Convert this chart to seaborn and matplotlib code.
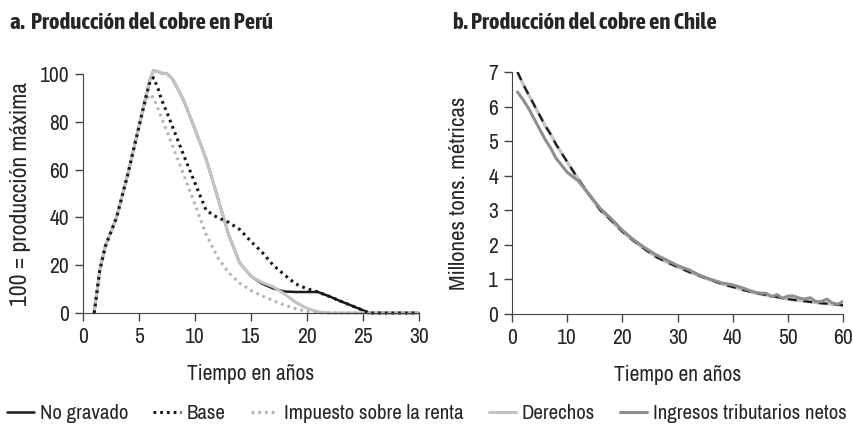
import matplotlib
matplotlib.use("Agg")
import matplotlib.pyplot as plt
from matplotlib import font_manager
from matplotlib.lines import Line2D
import seaborn as sns

# Peru (100 = max production)
anos_peru = [1, 1.5, 2, 3, 4, 5, 5.6, 6, 6.3, 6.7, 7, 7.5, 8, 9, 10, 11, 12, 13, 14, 15, 16,
             17, 18, 19, 20, 21, 22, 23, 24, 25, 25.6, 27, 30]
no_gravado_peru = [0, 18, 28, 40, 58, 78, 90, 98, 101.5, 101, 100.4, 100.2, 98, 89, 77, 64.5,
                   49, 33, 21, 15.5, 12.3, 10.3, 9, 8.8, 8.8, 8.8, 7, 5, 3.1, 1.2, 0, 0, 0]
base_peru = [0, 18, 28, 40, 58, 78, 90, 97, 98.5, 94, 89.5, 84, 78, 66, 54.5, 43, 40, 38, 35,
             30, 25.5, 20, 16, 12.2, 10.2, 8.8, 7, 5, 3.1, 1.2, 0, 0, 0]
impuesto_peru = [0, 18, 28, 40, 58, 78, 89, 91.5, 90, 85.5, 82, 76, 70, 58, 45.5, 33, 23.5, 17,
                 12.5, 9.5, 7.2, 5.2, 3.3, 1.8, 0.7, 0.1, 0, 0, 0, 0, 0, 0, 0]
derechos_peru = [0, 18, 28, 40, 58, 78, 90, 98, 101.5, 101, 100.4, 100.2, 98, 89, 77, 64.5,
                 49, 33, 21, 15.5, 12.8, 11, 8, 4.5, 2, 0.5, 0, 0, 0, 0, 0, 0, 0]

# Chile (millions of metric tons)
anos_chile = [1, 2, 3, 4, 5, 6, 7, 8, 10, 12, 14, 16, 18, 20, 22, 24, 26, 28, 30, 32, 34, 36,
              38, 40, 42, 43, 44, 45, 46, 47, 48, 49, 50, 51, 52, 53, 54, 55, 56, 57, 58, 59, 60]
no_gravado_chile = [7.0, 6.65, 6.35, 6.05, 5.75, 5.45, 5.2, 4.9, 4.4, 3.9, 3.45, 3.0, 2.7, 2.38,
                    2.12, 1.88, 1.66, 1.5, 1.36, 1.22, 1.1, 0.98, 0.87, 0.78, 0.69, 0.65, 0.61,
                    0.58, 0.55, 0.52, 0.49, 0.46, 0.43, 0.41, 0.39, 0.37, 0.35, 0.33, 0.31, 0.3,
                    0.28, 0.27, 0.25]
derechos_chile = no_gravado_chile
ingresos_chile = [6.42, 6.2, 5.95, 5.65, 5.35, 5.05, 4.8, 4.5, 4.1, 3.85, 3.45, 3.05, 2.75, 2.42,
                  2.15, 1.92, 1.72, 1.56, 1.4, 1.28, 1.12, 1.0, 0.9, 0.84, 0.74, 0.68, 0.63,
                  0.6, 0.6, 0.5, 0.56, 0.45, 0.52, 0.52, 0.46, 0.43, 0.47, 0.36, 0.36, 0.43,
                  0.32, 0.28, 0.37]

negro = "#1a1a1a"
gris_claro = "#c4c4c4"
gris_punto = "#b4b4b4"
gris_medio = "#8e8e8e"
dots = (0, (0.9, 1.3))

sns.set_style("ticks")


def peso(f):
    w = f.weight
    return w if isinstance(w, int) else font_manager.weight_dict.get(w, 400)


# narrow font if one is around, else condensed DejaVu
fuentes = [f for f in font_manager.fontManager.ttflist
           if "Narrow" in f.name or "Condensed" in f.name]
narrow = sorted({f.name for f in fuentes})
narrow_bold = sorted({f.name for f in fuentes if peso(f) >= 600})
if narrow:
    plt.rcParams["font.family"] = [narrow[0], "DejaVu Sans"]
    fs = 15.5
else:
    plt.rcParams["font.family"] = ["DejaVu Sans"]
    plt.rcParams["font.stretch"] = "condensed"
    fs = 13.5
if narrow_bold:
    titulo_fuente = dict(family=[narrow_bold[0], "DejaVu Sans"], fontweight="bold", fontsize=fs + 1)
else:
    titulo_fuente = dict(family=["DejaVu Sans"], fontstretch="condensed", fontweight="bold",
                         fontsize=fs - 1)

fig = plt.figure(figsize=(8.54, 4.40), dpi=100)
ax1 = fig.add_axes([0.0972, 0.2886, 0.393, 0.543])
ax2 = fig.add_axes([0.5995, 0.2864, 0.388, 0.55])

# panel a
sns.lineplot(x=anos_peru, y=no_gravado_peru, ax=ax1, color=negro, lw=1.8, sort=False)
sns.lineplot(x=anos_peru, y=derechos_peru, ax=ax1, color=gris_claro, lw=2.2, sort=False)
sns.lineplot(x=anos_peru, y=impuesto_peru, ax=ax1, color=gris_punto, lw=2.2, linestyle=dots, sort=False)
sns.lineplot(x=anos_peru, y=base_peru, ax=ax1, color=negro, lw=2.2, linestyle=dots, sort=False)
ax1.set_xlim(0, 30)
ax1.set_ylim(0, 100)
ax1.set_xticks(range(0, 31, 5))
ax1.set_yticks(range(0, 101, 20))
ax1.set_ylabel("100 = producción máxima", fontsize=fs + 1.5, labelpad=6)
for linea in ax1.lines:
    linea.set_clip_on(False)

# panel b
sns.lineplot(x=anos_chile, y=derechos_chile, ax=ax2, color=gris_claro, lw=2.4, sort=False)
sns.lineplot(x=anos_chile, y=no_gravado_chile, ax=ax2, color=negro, lw=1.6, linestyle=(0, (4, 3)), sort=False)
sns.lineplot(x=anos_chile, y=ingresos_chile, ax=ax2, color=gris_medio, lw=2.2, sort=False)
ax2.set_xlim(0, 60)
ax2.set_ylim(0, 7)
ax2.set_xticks(range(0, 61, 10))
ax2.set_yticks(range(0, 8))
ax2.set_ylabel("Millones tons. métricas", fontsize=fs + 1, labelpad=14)

for ax in (ax1, ax2):
    sns.despine(ax=ax)
    ax.spines["left"].set_color("#444444")
    ax.spines["bottom"].set_color("#444444")
    ax.tick_params(axis="both", labelsize=fs, length=6, width=1, color="#444444", pad=4)
    ax.set_xlabel("Tiempo en años", fontsize=fs, labelpad=12)

fig.text(0.012, 0.935, "a.  Producción del cobre en Perú", **titulo_fuente)
fig.text(0.53, 0.935, "b. Producción del cobre en Chile", **titulo_fuente)

handles = [
    Line2D([], [], color=negro, lw=1.8),
    Line2D([], [], color=negro, lw=2.2, linestyle=dots),
    Line2D([], [], color=gris_punto, lw=2.2, linestyle=dots),
    Line2D([], [], color=gris_claro, lw=2.2),
    Line2D([], [], color=gris_medio, lw=2.2),
]
labels = ["No gravado", "Base", "Impuesto sobre la renta", "Derechos", "Ingresos tributarios netos"]
fig.legend(handles, labels, loc="lower center", bbox_to_anchor=(0.5, -0.005), ncol=5,
           frameon=False, fontsize=fs - 0.5, handlelength=1.3, handletextpad=0.3, columnspacing=1.2)

fig.savefig("out.png", dpi=100)
